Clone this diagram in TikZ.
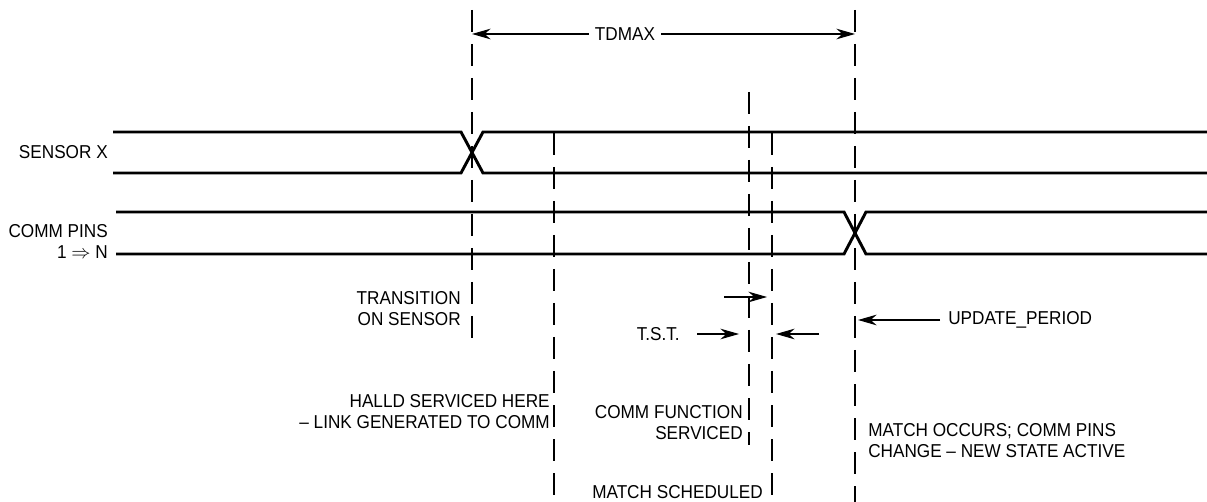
\documentclass[tikz,border=0pt]{standalone}
\usepackage{fontspec}
\setmainfont[FakeStretch=0.92]{Liberation Sans}
\usetikzlibrary{arrows.meta,positioning,calc}

\begin{document}
\begin{tikzpicture}[x=0.75pt, y=-0.75pt,
  signal/.style={line width=2.2pt, line join=miter},
  guide/.style={line width=0.9pt, dash pattern=on 16.5pt off 9pt},
  dim/.style={-{Stealth[length=14pt,width=8pt]}, line width=0.8pt},
  lbl/.style={font=\fontsize{14}{15.75}\selectfont, inner sep=0pt, align=right},
  lbll/.style={lbl, align=left}
]
\useasboundingbox (0,0) rectangle (1207,502);

% Guide lines
\coordinate (trtop) at (472,10);   \coordinate (trbot) at (472,345);
\coordinate (halltop) at (554,133); \coordinate (hallbot) at (554,502);
\coordinate (svctop) at (749,92);  \coordinate (svcbot) at (749,445);
\coordinate (schtop) at (772,133); \coordinate (schbot) at (772,502);
\coordinate (mattop) at (855,10);  \coordinate (matbot) at (855,502);
\draw[guide] (trtop) -- (trbot);
\draw[guide] (halltop) -- (hallbot);
\draw[guide] (svctop) -- (svcbot);
\draw[guide] (schtop) -- (schbot);
\draw[guide] (mattop) -- (matbot);

% Signals
\node[lbl, anchor=east] (sensor) at (108,152) {SENSOR X};
\draw[signal] (113,132) -- (461,132) -- (483,173) -- (1207,173);
\draw[signal] (113,173) -- (461,173) -- (483,132) -- (1207,132);

\node[lbl, anchor=east] (comm) at (108,241) {COMM PINS\\1 $\Rightarrow$ N};
\draw[signal] (116,212) -- (844,212) -- (866,254) -- (1207,254);
\draw[signal] (116,254) -- (844,254) -- (866,212) -- (1207,212);

% TDMAX
\node[lbl, inner xsep=4.5pt] (tdmax) at (625,34) {TDMAX};
\coordinate (tdl) at (472,34);
\coordinate (tdr) at (855,34);
\draw[dim] (tdmax.west) -- (tdl);
\draw[dim] (tdmax.east) -- (tdr);

% Event labels
\node[lbl, anchor=east] (trans) at (461,309) {TRANSITION\\ON SENSOR};
\node[lbl, anchor=east] (halld) at (550,412) {HALLD SERVICED HERE\\-- LINK GENERATED TO COMM};
\node[lbl, anchor=east] (svc) at (743,423) {COMM FUNCTION\\SERVICED};
\node[lbl, anchor=east] (sched) at (763,492) {MATCH SCHEDULED};
\node[lbll, anchor=west] (match) at (868,441) {MATCH OCCURS; COMM PINS\\CHANGE -- NEW STATE ACTIVE};

% T.S.T.
\node[lbl, anchor=east] (tst) at (680,334) {T.S.T.};
\coordinate (tsta) at (724,297); \coordinate (tstb) at (767,297);
\coordinate (tstl) at (697,334); \coordinate (tstlt) at (739,334);
\coordinate (tstr) at (819,334); \coordinate (tstrt) at (776,334);
\draw[dim] (tsta) -- (tstb);
\draw[dim] (tstl) -- (tstlt);
\draw[dim] (tstr) -- (tstrt);

% UPDATE_PERIOD
\node[lbll, anchor=west] (upd) at (948,320) {UPDATE\_PERIOD};
\coordinate (updtip) at (858,320);
\draw[dim] ([xshift=-6pt]upd.west) -- (updtip);
\end{tikzpicture}
\end{document}
